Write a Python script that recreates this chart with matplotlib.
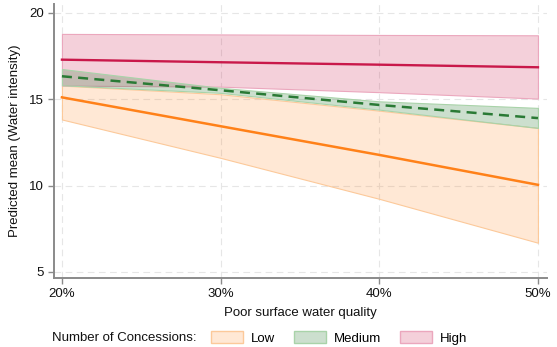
import matplotlib
matplotlib.use("Agg")
import matplotlib.pyplot as plt
from matplotlib.patches import Patch

plt.rcParams['font.family'] = ['Liberation Sans', 'DejaVu Sans']

x = [20, 30, 40, 50]
low_mean = [15.10, 13.43, 11.77, 10.04]
low_hi = [15.78, 15.28, 14.33, 13.33]
low_lo = [13.82, 11.60, 9.23, 6.69]
med_mean = [16.32, 15.51, 14.66, 13.90]
med_hi = [16.74, 15.65, 14.87, 14.49]
med_lo = [15.80, 15.36, 14.39, 13.33]
high_mean = [17.28, 17.13, 16.99, 16.84]
high_hi = [18.77, 18.74, 18.71, 18.69]
high_lo = [15.78, 15.72, 15.40, 15.03]

x_ticks = [20, 30, 40, 50]
x_ticklabels = ['20%', '30%', '40%', '50%']
y_ticks = [5, 10, 15, 20]
labels = ['Low', 'Medium', 'High']

W, H = 557, 347
fig = plt.figure(figsize=(W / 100, H / 100), dpi=100)
ax = fig.add_axes([54 / W, 69 / H, (547 - 54) / W, (343 - 69) / H])

c_low, e_low = '#ff8119', '#fcc99a'
c_med, e_med = '#2a7a35', '#a9d3a9'
c_high, e_high = '#c9184a', '#eba7bd'
a_low, a_med, a_high = 0.18, 0.24, 0.2

ax.fill_between(x, low_lo, low_hi, facecolor=(1.0, 0.506, 0.098, a_low), edgecolor=e_low, lw=0.8, zorder=2)
ax.fill_between(x, high_lo, high_hi, facecolor=(0.788, 0.094, 0.29, a_high), edgecolor=e_high, lw=0.8, zorder=3)
ax.fill_between(x, med_lo, med_hi, facecolor=(0.165, 0.478, 0.208, a_med), edgecolor=e_med, lw=0.8, zorder=4)
ax.plot(x, low_mean, color=c_low, lw=1.8, zorder=5)
ax.plot(x, med_mean, color=c_med, lw=1.8, ls=(0, (4, 2.5)), zorder=6)
ax.plot(x, high_mean, color=c_high, lw=1.7, zorder=7)

ax.set_xlim(19.5, 50.57)
ax.set_ylim(4.65, 20.5)
ax.set_xticks(x_ticks)
ax.set_xticklabels(x_ticklabels)
ax.set_yticks(y_ticks)
ax.grid(True, color='#e6e6e6', ls=(0, (6, 4)), lw=0.8, zorder=0)
ax.set_axisbelow(True)
for s in ['top', 'right']:
    ax.spines[s].set_visible(False)
for s in ['left', 'bottom']:
    ax.spines[s].set_color('#8a8a8a')
    ax.spines[s].set_linewidth(1.4)
ax.tick_params(axis='both', colors='#8a8a8a', length=4, width=1, labelsize=9.5,
               labelcolor='#111111', pad=3)

ax.set_xlabel('Poor surface water quality', fontsize=9.5, color='#111111', labelpad=5)
ax.set_ylabel('Predicted mean (Water intensity)', fontsize=9.5, color='#111111', labelpad=6)

fig.text(52 / W, 1 - 338 / H, 'Number of Concessions:', fontsize=9.5, color='#111111',
         va='center', ha='left')
handles = [Patch(facecolor=(1.0, 0.506, 0.098, a_low), edgecolor=e_low),
           Patch(facecolor=(0.165, 0.478, 0.208, a_med), edgecolor=e_med),
           Patch(facecolor=(0.788, 0.094, 0.29, a_high), edgecolor=e_high)]
fig.legend(handles, labels, loc='center left', bbox_to_anchor=(211 / W, 1 - 338 / H),
           ncol=3, frameon=False, fontsize=9.5, handlelength=2.4, handleheight=1.0,
           handletextpad=0.65, columnspacing=1.4, borderpad=0, borderaxespad=0)

fig.savefig('out.png', dpi=100)
